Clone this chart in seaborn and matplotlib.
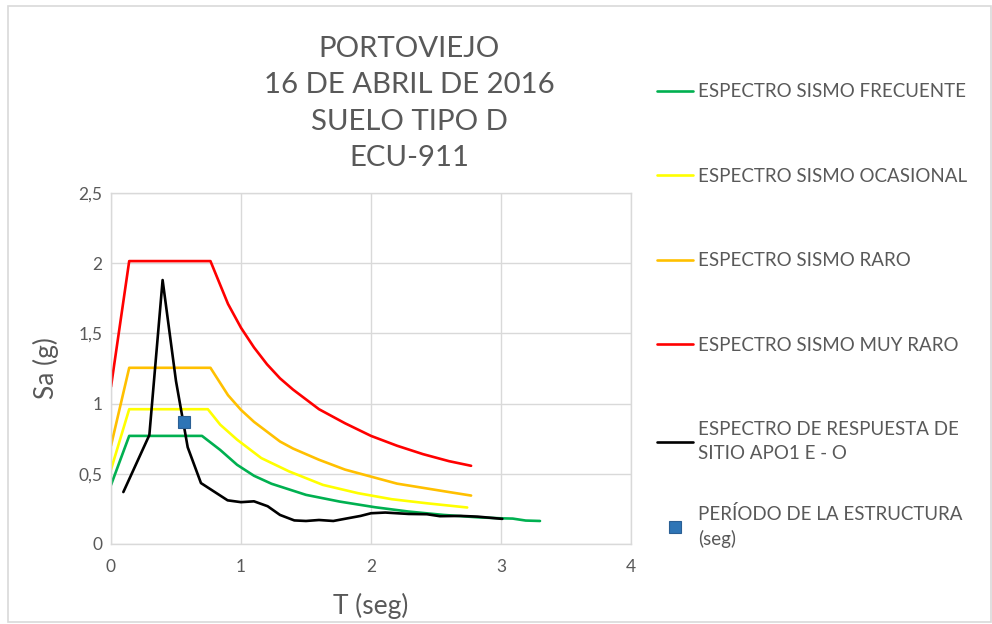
import numpy as np
import pandas as pd
import matplotlib
matplotlib.use("Agg")
import matplotlib.pyplot as plt
import seaborn as sns
from matplotlib.patches import Rectangle
from matplotlib.ticker import FuncFormatter

#%% datos

t_frecuente = [0.0, 0.14, 0.70, 0.84, 0.97, 1.10, 1.235, 1.50, 1.76, 2.03, 2.29, 2.56, 2.82, 3.0, 3.09, 3.19, 3.30]
sa_frecuente = [0.42, 0.77, 0.77, 0.67, 0.564, 0.486, 0.429, 0.35, 0.302, 0.262, 0.231, 0.207, 0.19, 0.183, 0.181, 0.167, 0.164]

t_ocasional = [0.0, 0.14, 0.745, 0.84, 0.97, 1.156, 1.37, 1.63, 1.90, 2.16, 2.43, 2.74]
sa_ocasional = [0.53, 0.96, 0.96, 0.85, 0.743, 0.612, 0.517, 0.421, 0.362, 0.319, 0.29, 0.26]

t_raro = [0.0, 0.14, 0.765, 0.9, 1.0, 1.1, 1.2, 1.3, 1.4, 1.5, 1.6, 1.8, 2.0, 2.2, 2.4, 2.6, 2.77]
sa_raro = [0.70, 1.255, 1.255, 1.06, 0.955, 0.87, 0.80, 0.73, 0.68, 0.64, 0.60, 0.53, 0.48, 0.43, 0.40, 0.37, 0.345]

t_muy_raro = [0.0, 0.14, 0.765, 0.9, 1.0, 1.1, 1.2, 1.3, 1.4, 1.5, 1.6, 1.8, 2.0, 2.2, 2.4, 2.6, 2.77]
sa_muy_raro = [1.12, 2.015, 2.015, 1.71, 1.54, 1.40, 1.28, 1.18, 1.10, 1.03, 0.96, 0.86, 0.77, 0.70, 0.64, 0.59, 0.557]

t_sitio = [0.095, 0.295, 0.397, 0.50, 0.59, 0.692, 0.897, 1.0, 1.10, 1.205, 1.30, 1.41, 1.50, 1.60, 1.71,
           1.82, 1.92, 2.0, 2.11, 2.29, 2.43, 2.53, 2.69, 2.82, 3.01]
sa_sitio = [0.37, 0.776, 1.88, 1.16, 0.689, 0.434, 0.311, 0.298, 0.304, 0.269, 0.207, 0.168, 0.164, 0.171, 0.164,
            0.183, 0.20, 0.219, 0.224, 0.214, 0.212, 0.198, 0.20, 0.195, 0.179]

t_estructura = [0.565]
sa_estructura = [0.87]

etiquetas = ['ESPECTRO SISMO FRECUENTE', 'ESPECTRO SISMO OCASIONAL', 'ESPECTRO SISMO RARO',
             'ESPECTRO SISMO MUY RARO', 'ESPECTRO DE RESPUESTA DE\nSITIO APO1 E - O',
             'PERÍODO DE LA ESTRUCTURA\n(seg)']
colores = ['#00b050', '#ffff00', '#ffc000', '#ff0000', '#000000']

#%%
sns.set_style('white')
plt.rcParams['font.family'] = ['Lato', 'DejaVu Sans']
gris = '#595959'
gris_claro = '#d9d9d9'

fig = plt.figure(figsize=(9.92, 6.24), dpi=100)
ax = fig.add_axes([111/992, 1 - 544/624, 520/992, 351/624])

series = [(t_frecuente, sa_frecuente), (t_ocasional, sa_ocasional), (t_raro, sa_raro),
          (t_muy_raro, sa_muy_raro), (t_sitio, sa_sitio)]
lineas = []
for (t, sa), c, lab in zip(series, colores, etiquetas[:5]):
    df = pd.DataFrame({'T': t, 'Sa': sa})
    sns.lineplot(data=df, x='T', y='Sa', color=c, linewidth=1.9, label=lab,
                 sort=False, ax=ax, legend=False)
    lineas.append(ax.lines[-1])

cuadro, = ax.plot(t_estructura, sa_estructura, linestyle='none', marker='s', markersize=9,
                  markerfacecolor='#2e75b6', markeredgecolor='#2a5f94', markeredgewidth=0.8,
                  label=etiquetas[5])

ax.set_xlim(0, 4)
ax.set_ylim(0, 2.5)
ax.set_xticks(np.arange(0, 5, 1))
ax.set_yticks(np.arange(0, 2.51, 0.5))
ax.yaxis.set_major_formatter(FuncFormatter(lambda v, p: ('%g' % v).replace('.', ',')))
ax.grid(True, color=gris_claro, linewidth=1)
for s in ax.spines.values():
    s.set_color(gris_claro)
    s.set_linewidth(1)
ax.tick_params(axis='both', length=0, labelsize=12.5, colors=gris)
ax.tick_params(axis='x', pad=11)
ax.tick_params(axis='y', pad=6)
ax.set_xlabel('T (seg)', fontsize=19, color=gris, labelpad=13)
ax.set_ylabel('Sa (g)', fontsize=19, color=gris, labelpad=14)

fig.text(409/992, 1 - 103.5/624, 'PORTOVIEJO\n16 DE ABRIL DE 2016\nSUELO TIPO D\nECU-911',
         ha='center', va='center', fontsize=21.2, color=gris, linespacing=1.48)

opciones = dict(loc='upper left', bbox_transform=fig.transFigure, frameon=False, fontsize=13.5,
                labelspacing=3.6, handlelength=1.9, handletextpad=0.25, borderpad=0)
leg1 = ax.legend(handles=lineas, labels=etiquetas[:5], bbox_to_anchor=(648/992, 1 - 74/624), **opciones)
ax.add_artist(leg1)
leg2 = ax.legend(handles=[cuadro], labels=[etiquetas[5]], bbox_to_anchor=(648/992, 1 - 496/624), **opciones)
for leg in (leg1, leg2):
    for txt in leg.get_texts():
        txt.set_color(gris)
        txt.set_linespacing(1.45)

fig.patches.append(Rectangle((8/992, 2/624), 983/992, 616/624, transform=fig.transFigure,
                             fill=False, edgecolor=gris_claro, linewidth=1.2))

plt.savefig('out.png', format='png', dpi=100)
